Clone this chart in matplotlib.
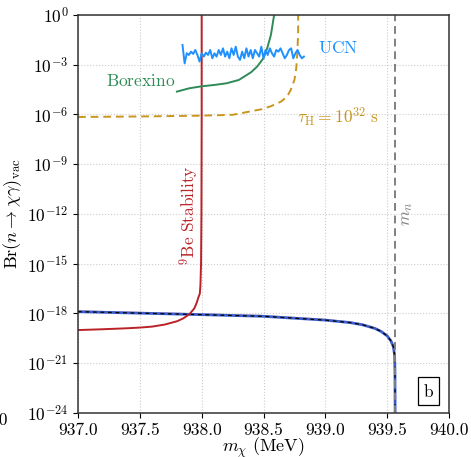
import numpy as np
import matplotlib.pyplot as plt

plt.rcParams['mathtext.fontset'] = 'cm'
plt.rcParams['font.family'] = 'serif'
plt.rcParams['font.serif'] = ['cmr10', 'DejaVu Serif']
plt.rcParams['axes.unicode_minus'] = False

m_n = 939.565

# 9Be stability bound
be_m = [937.0, 937.2, 937.4, 937.5, 937.6, 937.7, 937.8, 937.85, 937.9,
        937.94, 937.96, 937.975, 937.985, 937.99, 937.995, 937.998, 938.0, 938.0]
be_log = [-19.0, -18.95, -18.89, -18.85, -18.79, -18.67, -18.47, -18.3, -18.05,
          -17.7, -17.35, -17.0, -16.8, -16.3, -15.0, -12.0, -6.0, 0.5]

# vacuum branching ratio (blue band, dashed centre and faint upper edge)
vac_m = [937.0, 937.5, 938.0, 938.5, 939.0, 939.2, 939.3, 939.4, 939.45,
         939.5, 939.53, 939.55, 939.56, 939.563, 939.565]
vac_log = [-17.89, -17.98, -18.07, -18.17, -18.40, -18.55, -18.68, -18.9, -19.08,
           -19.35, -19.65, -20.0, -20.5, -21.5, -25.0]
vac_hi_log = [-17.85, -17.94, -18.03, -18.13, -18.36, -18.51, -18.64, -18.86, -19.04,
              -19.31, -19.6, -19.95, -20.45, -21.4, -25.0]

# Borexino
bx_m = [937.80, 937.9, 938.0, 938.1, 938.2, 938.3, 938.4, 938.45, 938.5, 938.53, 938.56, 938.59]
bx_log = [-4.62, -4.42, -4.30, -4.22, -4.12, -3.92, -3.45, -3.1, -2.6, -2.0, -1.2, 0.2]

# tau_H = 1e32 s
tau_m = [937.0, 937.5, 938.0, 938.25, 938.48, 938.56, 938.64, 938.69, 938.72,
         938.75, 938.765, 938.775, 938.78, 938.78]
tau_log = [-6.15, -6.12, -6.07, -6.02, -5.69, -5.5, -5.23, -4.93, -4.52,
           -3.92, -3.2, -2.1, -1.0, 0.5]

# UCN
ucn_log = [-1.81, -2.92, -2.31, -2.41, -2.21, -2.35, -2.11, -2.41, -2.81, -2.31,
           -2.51, -2.27, -2.41, -2.11, -2.61, -2.31, -2.51, -2.11, -2.41, -2.01,
           -2.51, -2.21, -2.61, -2.01, -2.41, -1.91, -2.51, -2.71, -2.21, -2.61,
           -2.01, -2.51, -2.11, -2.61, -2.11, -2.31, -2.51, -1.91, -2.61, -2.11,
           -2.41, -2.01, -2.31, -2.51, -2.11, -2.21, -2.01, -2.31, -2.61, -2.41,
           -2.11, -2.01, -2.61, -2.31, -2.11, -2.41, -2.61, -2.51]
ucn_m = np.linspace(937.845, 938.827, len(ucn_log))

xticks = [937.0, 937.5, 938.0, 938.5, 939.0, 939.5, 940.0]
yexp = [-24, -21, -18, -15, -12, -9, -6, -3, 0]

fig = plt.figure(figsize=(4.71, 4.57), dpi=100)
ax = fig.add_axes([0.1656, 0.0963, 0.7877, 0.8709])

ax.plot(vac_m, 10.0 ** np.array(vac_hi_log), color='lightcoral', lw=1.0, alpha=0.7)
ax.plot(vac_m, 10.0 ** np.array(vac_log), color='#3a5fcd', lw=2.0)
ax.plot(vac_m, 10.0 ** np.array(vac_log), color='black', lw=0.9, ls=(0, (3, 3)))
ax.plot(be_m, 10.0 ** np.array(be_log), color='#bb2228', lw=1.4)
ax.plot(bx_m, 10.0 ** np.array(bx_log), color='#2e8b57', lw=1.4)
ax.plot(tau_m, 10.0 ** np.array(tau_log), color='#c8961e', lw=1.4, ls=(0, (4, 2.5)))
ax.plot(ucn_m, 10.0 ** np.array(ucn_log), color='#1e90ff', lw=1.4)
ax.axvline(m_n, color='gray', lw=1.4, ls=(0, (4, 2.5)))

ax.set_yscale('log')
ax.set_xlim(937.0, 940.0)
ax.set_ylim(1e-24, 1e0)
ax.set_xticks(xticks)
ax.set_xticklabels(['%.1f' % t for t in xticks], fontsize=12.5)
ax.set_yticks([10.0 ** e for e in yexp])
ax.set_yticklabels([r'$10^{%d}$' % e for e in yexp], fontsize=12.5)
ax.minorticks_off()
ax.grid(True, color='#cccccc', ls=':', lw=0.8)
for s in ax.spines.values():
    s.set_color('#333333')
    s.set_linewidth(1.1)

ax.set_xlabel(r'$m_\chi\ (\mathrm{MeV})$', fontsize=13)
ax.xaxis.set_label_coords(0.5, -0.058)
ax.set_ylabel(r'$\mathrm{Br}(n\to\chi\gamma)_{\mathrm{vac}}$', fontsize=13, labelpad=2)

ax.text(937.51, 10 ** -3.98, r'$\mathrm{Borexino}$', color='#2e8b57', fontsize=12.5,
        ha='center', va='center')
ax.text(939.10, 10 ** -1.99, r'$\mathrm{UCN}$', color='#1e90ff', fontsize=12.5,
        ha='center', va='center')
ax.text(939.10, 10 ** -6.15, r'$\tau_{\mathrm{H}} = 10^{32}\ \mathrm{s}$', color='#c8961e',
        fontsize=12.5, ha='center', va='center')
ax.text(937.90, 10 ** -12.06, r'$^{9}\mathrm{Be\ Stability}$', color='#bb2228', fontsize=12.5,
        ha='center', va='center', rotation=90)
ax.text(939.66, 10 ** -12.0, r'$m_n$', color='gray', fontsize=12.5,
        ha='center', va='center', rotation=90)
ax.text(0.944, 0.055, r'$\mathrm{b}$', transform=ax.transAxes, fontsize=12.5,
        ha='center', va='center',
        bbox=dict(boxstyle='square,pad=0.3', fc='white', ec='black', lw=0.9))

fig.text(0.017, 0.096, '940.0', fontsize=12.5, ha='right', va='top')

fig.savefig('out.png', dpi=100)
